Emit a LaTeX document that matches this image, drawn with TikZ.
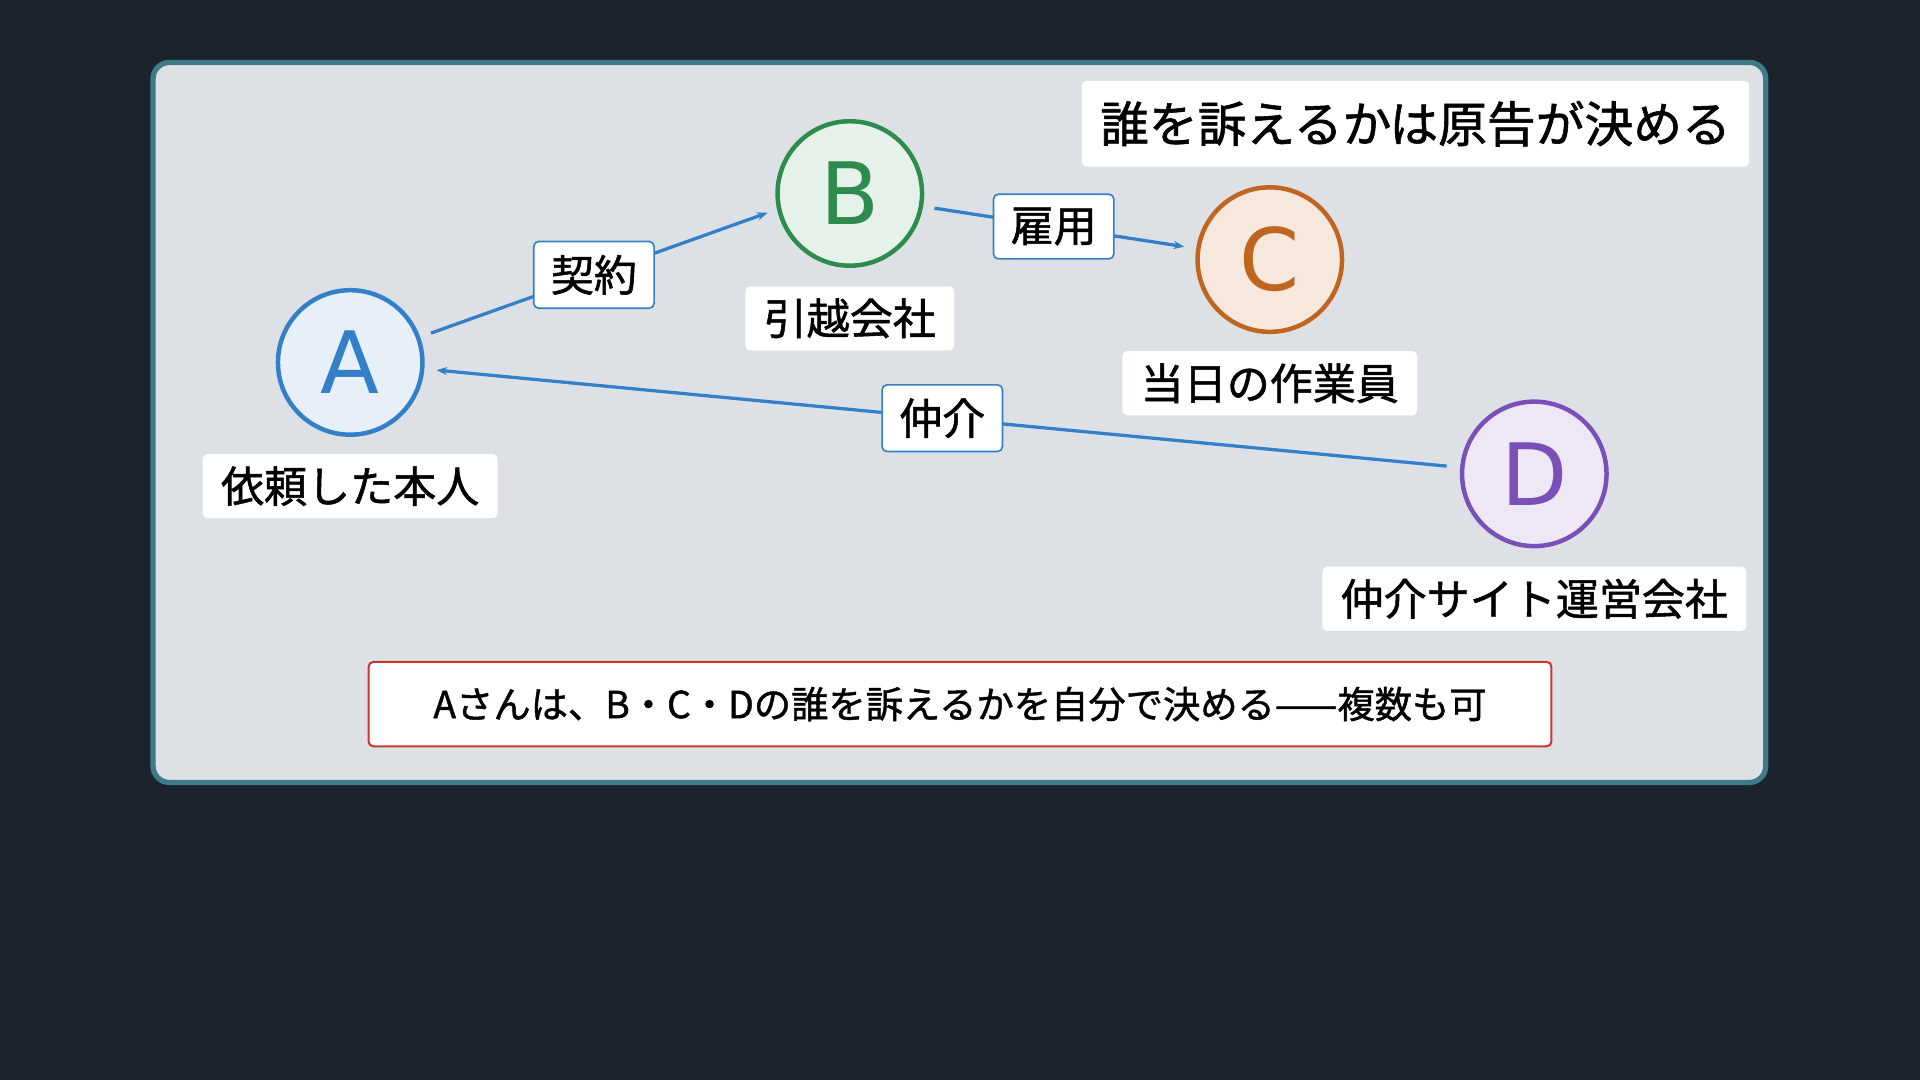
\documentclass[tikz,border=0pt]{standalone}
\usepackage{fontspec}
\setmainfont{Noto Sans CJK JP}[FakeBold=1.2]
\newfontfamily\partyfont{DejaVu Sans}
\usetikzlibrary{arrows.meta}
\definecolor{bgdark}{HTML}{1D232D}
\definecolor{panelfill}{HTML}{DDE1E6}
\definecolor{paneledge}{HTML}{3F7A8A}
\definecolor{linkblue}{HTML}{3380C8}
\definecolor{bgreen}{HTML}{2E8B4E}
\definecolor{corange}{HTML}{C0651F}
\definecolor{dviolet}{HTML}{7B4FB8}
\definecolor{notered}{HTML}{C8372D}
\tikzset{
  party/.style={circle,minimum size=118*0.3mm,line width=1.1mm,font=\partyfont\fontsize{60}{60}\selectfont},
  tag/.style={fill=white,rounded corners=1.2mm,inner xsep=4.5mm,inner ysep=3mm,font=\fontsize{30}{32}\selectfont},
  link/.style={draw=linkblue,line width=0.8mm,-{Stealth[length=2.6mm,width=2mm]}},
  linktag/.style={tag,draw=linkblue,line width=0.4mm,inner xsep=4.2mm,inner ysep=3.3mm}
}
\begin{document}
\begin{tikzpicture}[x=0.3mm,y=-0.3mm]
\fill[bgdark] (0,0) rectangle (1568,882);
\useasboundingbox (0,0) rectangle (1568,882);
% panel
\draw[paneledge,fill=panelfill,line width=1.3mm,rounded corners=4mm] (125,51) rectangle (1442,639);
% title
\node[tag,font=\fontsize{34}{36}\selectfont,minimum width=543*0.3mm,minimum height=70*0.3mm] (title) at (1156,101) {誰を訴えるかは原告が決める};
% parties
\node[party,fill=linkblue!12,draw=linkblue,text=linkblue] (A) at (286,296) {A};
\node[party,fill=bgreen!12,draw=bgreen,text=bgreen] (B) at (694,158) {B};
\node[party,fill=corange!15,draw=corange,text=corange] (C) at (1037,212) {C};
\node[party,fill=dviolet!13,draw=dviolet,text=dviolet] (D) at (1253,387) {D};
% names
\node[tag] (An) at (286,397) {依頼した本人};
\node[tag] (Bn) at (694,260) {引越会社};
\node[tag] (Cn) at (1037,313) {当日の作業員};
\node[tag] (Dn) at (1253,489) {仲介サイト運営会社};
% links
\draw[link,shorten <=2.8mm] (A.20) -- node[linktag] (ab) {契約} ([xshift=-2.5mm]B.195);
\draw[link,shorten <=2.8mm] (B.-10) -- node[linktag] (bc) {雇用} ([xshift=-3mm]C.170);
\draw[link,shorten <=3.3mm,shorten >=3mm] (D.175) -- node[linktag] (da) {仲介} (A.-5);
% note
\node[tag,draw=notered,line width=0.5mm,minimum width=966*0.3mm,minimum height=69*0.3mm,font=\fontsize{26}{28}\selectfont] (note) at (784,575) {Aさんは、B・C・Dの誰を訴えるかを自分で決める——複数も可};
\end{tikzpicture}
\end{document}
